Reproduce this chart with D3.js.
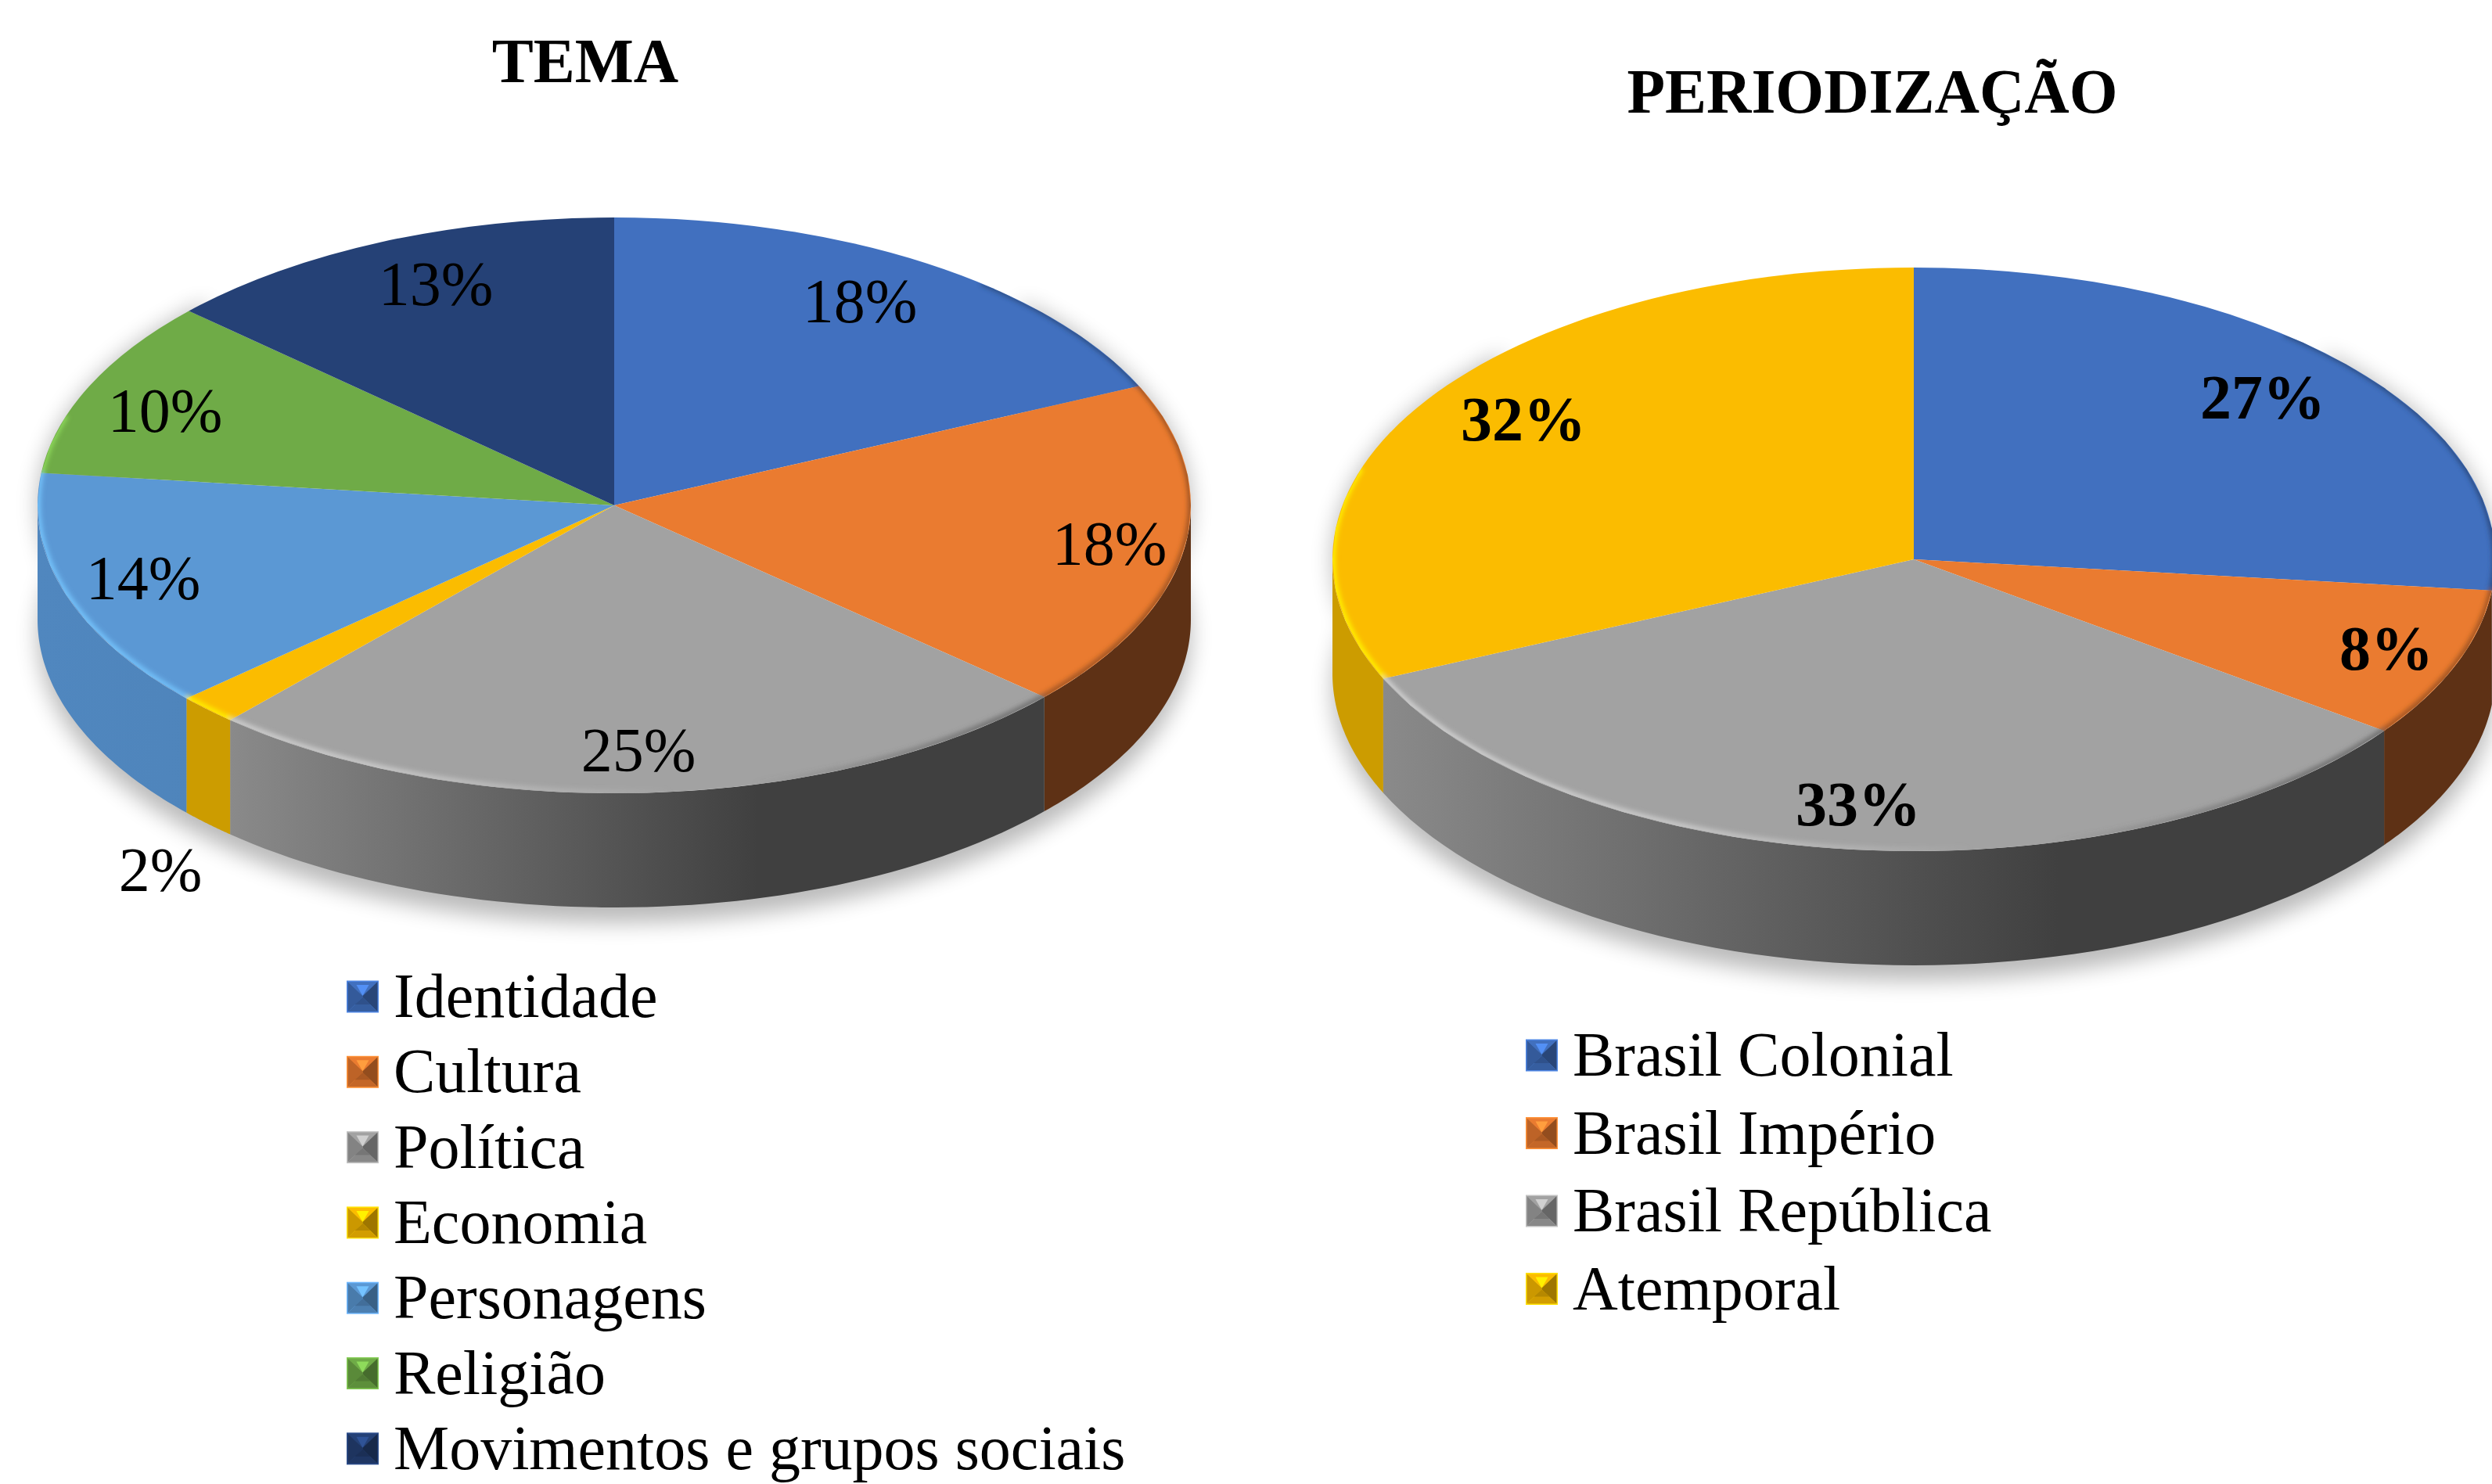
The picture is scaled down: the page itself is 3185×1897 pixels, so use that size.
<!DOCTYPE html>
<html><head><meta charset="utf-8">
<script src="https://cdn.jsdelivr.net/npm/d3@7"></script>
<style>html,body{margin:0;background:#fff;overflow:hidden}svg{display:block}text{font-family:"Liberation Serif",serif;fill:#000}</style>
</head><body><svg id="c" width="3185" height="1897"></svg>
<script>
const temaCategories=["Identidade","Cultura","Política","Economia","Personagens","Religião","Movimentos e grupos sociais"];
const temaValues=[18.2,18.4,25,1.7,13.5,10,13.2];
const temaColors=["#4170bf","#ea7b30","#a2a2a2","#fbbc00","#5b98d4","#6fab47","#254176"];
const periodoCategories=["Brasil Colonial","Brasil Império","Brasil República","Atemporal"];
const periodoValues=[26.7,8.3,33.3,31.7];
const periodoColors=["#4170bf","#ea7b30","#a2a2a2","#fbbc00"];
const sideLeft={"#4170bf":"#3a62a8","#ea7b30":"#5e3115","#a2a2a2":"#8a8a8a","#fbbc00":"#cc9c00","#5b98d4":"#5087bf","#6fab47":"#5a8a39","#254176":"#1e3660"};
const sideRight={"#4170bf":"#2a4478","#ea7b30":"#5e3115","#a2a2a2":"#404040","#fbbc00":"#cc9c00","#5b98d4":"#4a7cae","#6fab47":"#43682b","#254176":"#16284a"};

const layouts=[
 {id:"t",title:"TEMA",titleX:748,titleY:105,cx:785,cy:646,rx:737,ry:368,depth:146,bold:false,
  cats:temaCategories,vals:temaValues,cols:temaColors,
  labels:[[1099,385],[1418,695],[816,959],[205,1112],[183,739],[211,525],[557,363]],
  legX:443,legY0:1274,legStep:96.3},
 {id:"p",title:"PERIODIZAÇÃO",titleX:2393,titleY:144,cx:2446,cy:715,rx:743,ry:373,depth:146,bold:true,
  cats:periodoCategories,vals:periodoValues,cols:periodoColors,
  labels:[[2892,508],[3050,829],[2375,1028],[1947,536]],
  legX:1950,legY0:1349,legStep:99.5}
];
const FS=80, MK=41, TAU=Math.PI*2;
const svg=d3.select("#c"), defs=svg.append("defs");
const blur=(id,s)=>defs.append("filter").attr("id",id).attr("x","-20%").attr("y","-20%").attr("width","140%").attr("height","140%").append("feGaussianBlur").attr("stdDeviation",s);
blur("sh",14);blur("rimB",3);

layouts.forEach(L=>{
  const g=svg.append("g");
  const pie=d3.pie().sort(null).value(d=>d)(L.vals);
  const arc=d3.arc().innerRadius(0).outerRadius(L.rx);
  const yScale=L.ry/L.rx;
  const ex=a=>L.cx+L.rx*Math.sin(a), ey=a=>L.cy-L.ry*Math.cos(a);
  const ell=(a0,a1,dy)=>d3.range(0,61).map(i=>{const a=a0+(a1-a0)*i/60;return [ex(a),ey(a)+dy];});
  const line=d3.line();

  // soft shadow
  g.append("path").attr("d",line(ell(Math.PI*0.25,Math.PI*1.75,L.depth+20).concat(ell(Math.PI*1.75,Math.PI*0.25,0))))
   .attr("fill","#000").attr("opacity",.27).attr("filter","url(#sh)");

  // side wall from clipped front arcs
  pie.forEach((d,i)=>{
    const lo=Math.max(d.startAngle,Math.PI/2), hi=Math.min(d.endAngle,Math.PI*1.5);
    if(hi<=lo) return;
    const col=L.cols[i], gid=`${L.id}s${i}`;
    const xs=[ex(lo),ex(hi)], xmin=Math.min(...xs);
    const grad=defs.append("linearGradient").attr("id",gid).attr("gradientUnits","userSpaceOnUse")
      .attr("x1",xmin).attr("x2",L.cx+0.25*L.rx).attr("y1",0).attr("y2",0);
    grad.append("stop").attr("offset",0).attr("stop-color",sideLeft[col]);
    grad.append("stop").attr("offset",1).attr("stop-color",sideRight[col]);
    g.append("path").attr("d",line(ell(lo,hi,0).concat(ell(hi,lo,L.depth)))+"Z").attr("fill",`url(#${gid})`);
  });

  // top surface
  const top=g.append("g").attr("transform",`translate(${L.cx},${L.cy}) scale(1,${yScale})`);
  top.selectAll("path").data(pie).join("path").attr("d",arc).attr("fill",(d,i)=>L.cols[i]);

  // bevel rim: light on the left, dark on the right
  const clipId=L.id+"clip";
  defs.append("clipPath").attr("id",clipId).append("path").attr("d",line(ell(0,TAU,0))+"Z");
  const rim=g.append("g").attr("clip-path",`url(#${clipId})`).append("g").attr("filter","url(#rimB)");
  pie.forEach((d,i)=>{
    const lo=Math.max(d.startAngle,Math.PI*0.22), hi=Math.min(d.endAngle,Math.PI*1.6);
    if(hi<=lo) return;
    const col=L.cols[i], gid=`${L.id}r${i}`;
    const light=d3.rgb(col).brighter(0.75).formatHex(), dark=d3.rgb(col).darker(1.4).formatHex();
    const grad=defs.append("linearGradient").attr("id",gid).attr("gradientUnits","userSpaceOnUse")
      .attr("x1",L.cx-L.rx).attr("x2",L.cx+L.rx).attr("y1",0).attr("y2",0);
    [[0,light,1],[.3,light,.85],[.55,light,0],[.62,dark,0],[.82,dark,.8],[1,dark,.9]].forEach(s=>
      grad.append("stop").attr("offset",s[0]).attr("stop-color",s[1]).attr("stop-opacity",s[2]));
    rim.append("path").attr("d",line(ell(lo,hi,-1))).attr("fill","none").attr("stroke",`url(#${gid})`).attr("stroke-width",7);
  });

  // title and value labels
  g.append("text").attr("x",L.titleX).attr("y",L.titleY).attr("text-anchor","middle").attr("font-size",FS-.5).attr("font-weight",700).text(L.title);
  g.selectAll("text.v").data(pie).join("text").attr("class","v")
    .attr("x",(d,i)=>L.labels[i][0]).attr("y",(d,i)=>L.labels[i][1]+27)
    .attr("text-anchor","middle").attr("font-size",FS).attr("font-weight",L.bold?700:400)
    .text(d=>Math.round(d.data)+"%");

  // legend
  const ys=d3.scaleLinear().domain([0,1]).range([L.legY0,L.legY0+L.legStep]);
  L.cats.forEach((c,i)=>{
    const y=ys(i), x0=L.legX, x1=x0+MK, y0=y-MK/2, y1=y+MK/2;
    const col=d3.rgb(L.cols[i]), m=g.append("g");
    const mx=(x0+x1)/2;
    m.append("rect").attr("x",x0).attr("y",y0).attr("width",MK).attr("height",MK).attr("fill",col.brighter(.5).formatHex());
    const pad=1.5, X0=x0+pad, X1=x1-pad, Y0=y0+pad, Y1=y1-pad;
    const tri=(pts,fill)=>m.append("polygon").attr("points",pts.map(p=>p.join(",")).join(" ")).attr("fill",fill);
    const cTop=[mx,y-1], cBot=[mx,y+1];
    tri([[X0,Y0],[X1,Y0],cTop],col.formatHex());
    tri([[mx-8,Y0+4],[mx+8,Y0+4],[mx,y-1]],col.brighter(.7).formatHex());
    tri([[X0,Y0],[X0,Y1],cBot,cTop],col.darker(.6).formatHex());
    tri([[X1,Y0],[X1,Y1],cBot,cTop],col.darker(1.3).formatHex());
    tri([[X0,Y1],[X1,Y1],cBot],col.darker(.5).formatHex());
    tri([[mx-10,Y1-9],[mx+10,Y1-9],cBot],col.darker(.9).formatHex());
    g.append("text").attr("x",x1+19).attr("y",y+26).attr("font-size",FS).text(c);
  });
});
</script></body></html>
